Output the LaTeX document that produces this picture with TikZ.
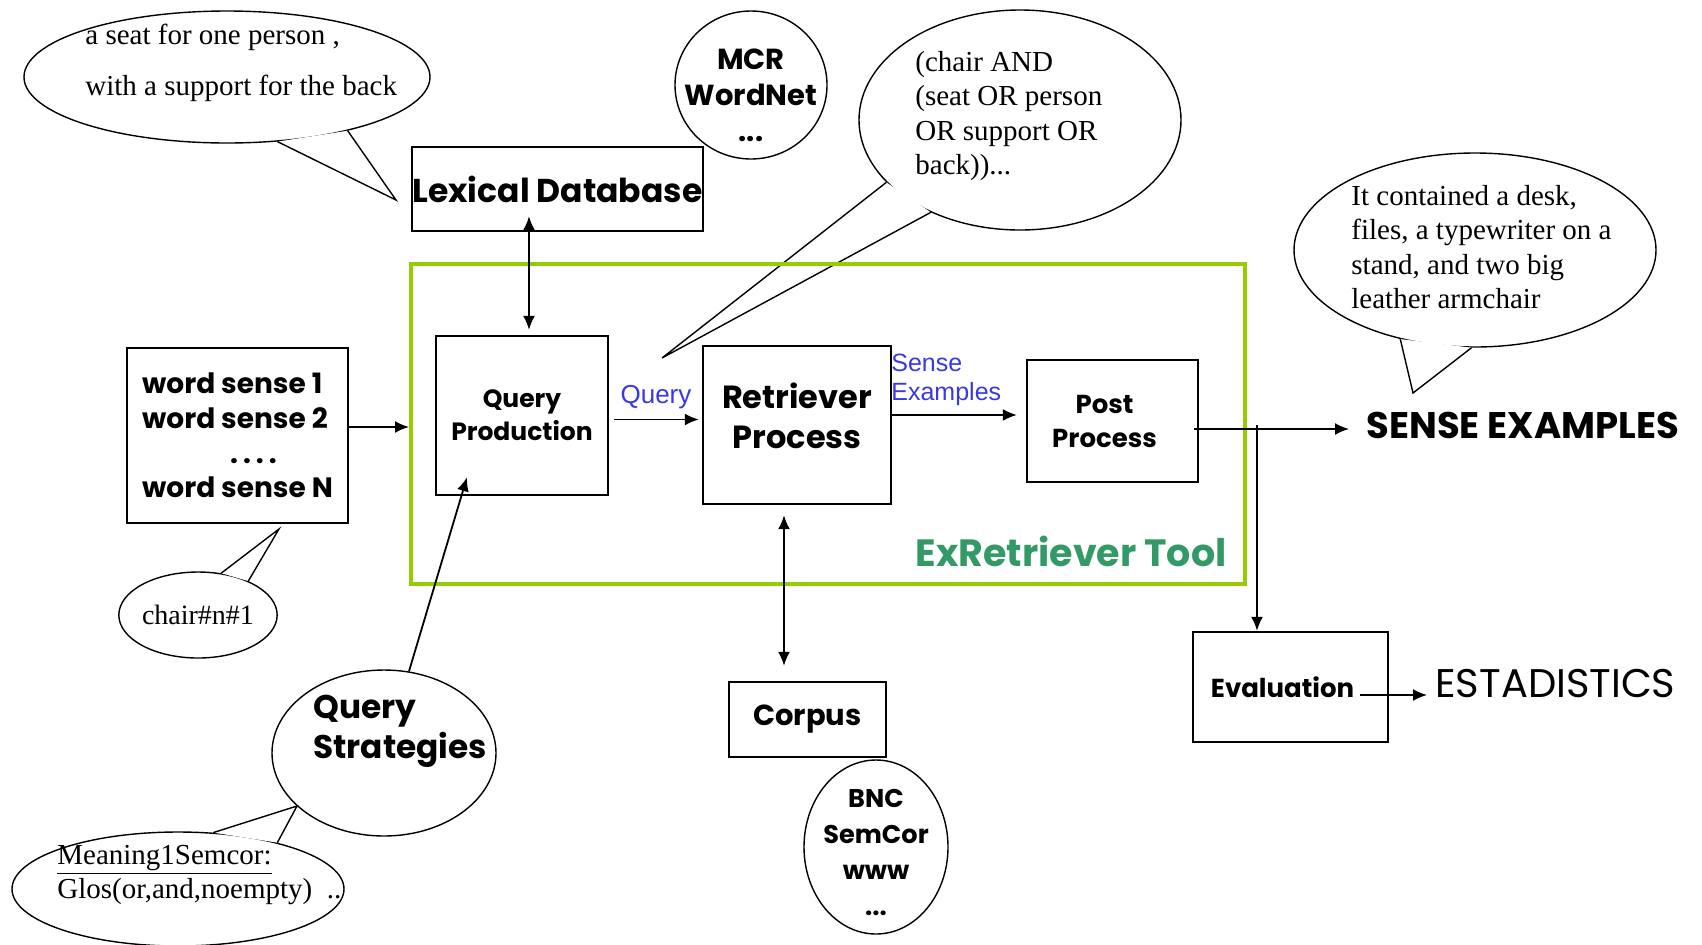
\documentclass[tikz,border=0pt]{standalone}
\usepackage{fontspec}
\setmainfont{Liberation Serif}
\setsansfont{Poppins}
\newfontfamily\labelfont{Liberation Sans}
\usetikzlibrary{arrows.meta,shapes.geometric}
\definecolor{toolgreen}{HTML}{99CC00}
\definecolor{tooltext}{HTML}{339966}
\definecolor{qblue}{HTML}{3838E8}
\newcommand\setfs[2]{\fontsize{#1}{#2}\selectfont}

\begin{document}
\begin{tikzpicture}[x=0.5pt,y=-0.5pt,
  box/.style={draw,line width=1.2pt,inner sep=0pt,align=center},
  bubble/.style={draw,ellipse,line width=0.7pt,inner sep=0pt},
  tail/.style={line width=0.7pt},
  arr/.style={line width=0.9pt,-{Latex[length=7pt,width=6pt]}},
  dbl/.style={line width=0.9pt,{Latex[length=7pt,width=6pt]}-{Latex[length=7pt,width=6pt]}},
  serif/.style={align=left,inner sep=0pt,anchor=west,font=\setfs{14.5}{17.3}},
  bold/.style 2 args={font=\sffamily\bfseries\setfs{#1}{#2}}]
\useasboundingbox (0,0) rectangle (1702,944);

% speech bubbles and clouds
\node[bubble,minimum width=203pt,minimum height=66pt] (seat) at (227,77) {};
\node[serif,font=\setfs{14.5}{25.5}] (seattext) at (85,63) {a seat for one person ,\\with a support for the back};
\coordinate (seattip) at (396,200);
\fill[white] (seat.-52) -- (seattip) -- (seat.-24) -- cycle;
\draw[tail] (seat.-52) -- (seattip) -- (seat.-24);

\node[bubble,minimum width=76pt,minimum height=74pt] (mcr) at (751,85) {};
\node[align=center,bold={14.5}{18}] (mcrtext) at (751,95) {MCR\\WordNet\\...};

\node[bubble,minimum width=161pt,minimum height=110pt] (bool) at (1020,120) {};
\node[serif] (booltext) at (915,116) {(chair AND\\(seat OR person\\OR support OR\\back))...};
\coordinate (booltip) at (662,358);
\fill[white] (bool.205) -- (booltip) -- (bool.226) -- cycle;
\draw[tail] (bool.205) -- (booltip) -- (bool.226);

\node[bubble,minimum width=181pt,minimum height=97pt] (ctx) at (1475,250) {};
\node[serif] (ctxtext) at (1351,247) {It contained a desk,\\files, a typewriter on a\\stand, and two big\\leather armchair};
\coordinate (ctxtip) at (1413,393);
\fill[white] (ctx.230) -- (ctxtip) -- (ctx.268) -- cycle;
\draw[tail] (ctx.230) -- (ctxtip) -- (ctx.268);

\node[bubble,minimum width=73pt,minimum height=43pt,font=\setfs{14}{17}] (chair) at (198,615) {chair\#n\#1};
\coordinate (chairtip) at (279,529);
\fill[white] (chair.61) -- (chairtip) -- (chair.34) -- cycle;
\draw[tail] (chair.61) -- (chairtip) -- (chair.34);

\node[bubble,minimum width=112pt,minimum height=83pt] (qs) at (384,753) {};
\node[anchor=west,align=left,inner sep=0pt,bold={16.4}{20}] (qstext) at (313,731) {Query\\Strategies};

\node[bubble,minimum width=166pt,minimum height=57pt] (mean) at (178,889) {};
\node[serif] (meantext) at (57,875) {\underline{Meaning1Semcor:}\\Glos(or,and,noempty)\ \ ..};
\coordinate (meantip) at (297,806);
\fill[white] (mean.58) -- (meantip) -- (mean.25) -- cycle;
\draw[tail] (mean.58) -- (meantip) -- (mean.25);

\node[bubble,minimum width=72pt,minimum height=87pt] (bnc) at (876,847) {};
\node[align=center,bold={12.8}{18}] (bnctext) at (876,852) {BNC\\SemCor\\www\\...};

% the tool
\node[draw=toolgreen,line width=2pt,minimum width=417pt,minimum height=160pt,inner sep=0pt] (tool) at (828,424) {};
\node[anchor=east,inner sep=0pt,text=tooltext,bold={19}{22}] (tooltitle) at (1227,551) {ExRetriever Tool};

\node[box,bold={16.5}{19}] (lex) at (557.5,189) [minimum width=145.5pt,minimum height=42pt] {Lexical Database};
\node[box,align=left,bold={14}{17.3}] (words) at (237.5,435.5) [minimum width=110.5pt,minimum height=87.5pt] {word sense 1\\word sense 2\\\hspace*{44pt}.\hspace{2.5pt}.\hspace{2.5pt}.\hspace{2.5pt}.\\word sense N};
\node[box,bold={12.5}{16.5}] (qp) at (522,415.5) [minimum width=86pt,minimum height=79.5pt] {Query\\Production};
\node[box,bold={16}{20},text depth=9pt] (rp) at (797,425) [minimum width=94pt,minimum height=79pt] {Retriever\\Process};
\node[box,bold={13}{17}] (pp) at (1112.5,421) [minimum width=85.5pt,minimum height=61pt] {Post\hspace*{8pt}\\Process\hspace*{8pt}};
\node[box,bold={13}{15}] (eval) at (1290.5,687) [minimum width=97.5pt,minimum height=55pt] {Evaluation\hspace*{8pt}};
\node[box,bold={14.5}{17}] (corpus) at (807.5,719.5) [minimum width=78.5pt,minimum height=37.5pt] {Corpus};

\node[text=qblue,inner sep=0pt,font=\labelfont\setfs{13}{14}] (qlabel) at (656,397) {Query};
\node[anchor=west,align=left,inner sep=0pt,text=qblue,font=\labelfont\setfs{12.5}{14.5}] (selabel) at (891,380) {Sense\\Examples};
\node[anchor=west,inner sep=0pt,bold={18.5}{20}] (senseout) at (1366,425) {SENSE EXAMPLES};
\node[anchor=west,inner sep=0pt,font=\sffamily\setfs{20}{22}] (stats) at (1435,684) {ESTADISTICS};

% connectors
\draw[arr] ([yshift=4.25pt]words.east) -- ([yshift=4.25pt]words.east -| tool.west);
\coordinate (lexport) at ([xshift=3.5pt]qp.north);
\draw[dbl,shorten <=-8pt,shorten >=2.5pt] (lexport |- lex.south) -- (lexport);
\coordinate (qport) at ([yshift=-2pt]qp.east);
\draw[arr,shorten <=2.5pt,shorten >=1.5pt] (qport) -- (qport -| rp.west);
\coordinate (sport) at ([yshift=5pt]rp.east);
\draw[arr,shorten >=4.5pt] (sport) -- (sport -| pp.west);
\coordinate (pport) at ([xshift=-2.5pt,yshift=-4pt]pp.east);
\draw[arr,shorten >=8.5pt] (pport) -- (pport -| senseout.west);
\coordinate (split) at (1257,425);
\draw[arr] (split) -- (split |- eval.north);
\coordinate (eport) at ([xshift=-14.5pt,yshift=-4pt]eval.east);
\draw[arr,shorten >=4pt] (eport) -- (eport -| stats.west);
\coordinate (rpport) at ([xshift=-6.5pt]rp.south);
\draw[dbl,shorten <=5pt,shorten >=7.5pt] (rpport) -- (rpport |- corpus.north);
\draw[arr] (qs.73) -- ([xshift=-27.5pt,yshift=9.5pt]qp.south);
\end{tikzpicture}
\end{document}
